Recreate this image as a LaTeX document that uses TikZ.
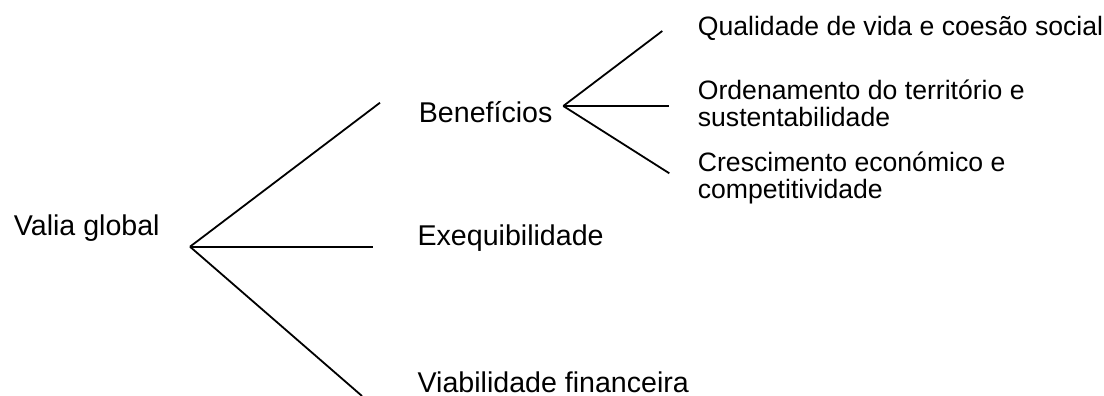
\documentclass[tikz,border=0pt]{standalone}
\usepackage{fontspec}
\setmainfont{Liberation Sans}
\tikzset{lbl/.style={anchor=base west, inner sep=0pt, align=left,
    font=\fontsize{13.3}{13.3}\selectfont},
  biglbl/.style={lbl, font=\fontsize{14.3}{14.3}\selectfont}}

\begin{document}
\begin{tikzpicture}[line width=0.9pt]
	\begin{scope}[x=0.5pt,y=-0.5pt]
	\useasboundingbox (0,0) rectangle (1104,396);
	% first level
	\node [biglbl] (valia) at (13,235) {Valia global};
	\coordinate (root) at (190,246.7);
	\coordinate (r1) at (380,102.7);
	\coordinate (r2) at (372.7,246.7);
	\coordinate (r3) at (362,396);
	\draw (root) -- (r1);
	\draw (root) -- (r2);
	\draw (root) -- (r3);
	\node [biglbl] (benef) at (418,122.3) {Benefícios};
	\node [biglbl] (exeq) at (416.7,245) {Exequibilidade};
	\node [biglbl] (viab) at (416.7,392) {Viabilidade financeira};
	% second level
	\coordinate (bvert) at (563.3,106);
	\coordinate (b1) at (662.3,31);
	\coordinate (b2) at (669.3,106);
	\coordinate (b3) at (669.3,173.3);
	\draw (bvert) -- (b1);
	\draw (bvert) -- (b2);
	\draw (bvert) -- (b3);
	\node [lbl] (qual) at (697,35.5) {Qualidade de vida e coesão social};
	\node [lbl] (orden) at (697,126.5) {Ordenamento do território e\\sustentabilidade};
	\node [lbl] (cresc) at (697,198.5) {Crescimento económico e\\competitividade};
	\end{scope}
\end{tikzpicture}
\end{document}
